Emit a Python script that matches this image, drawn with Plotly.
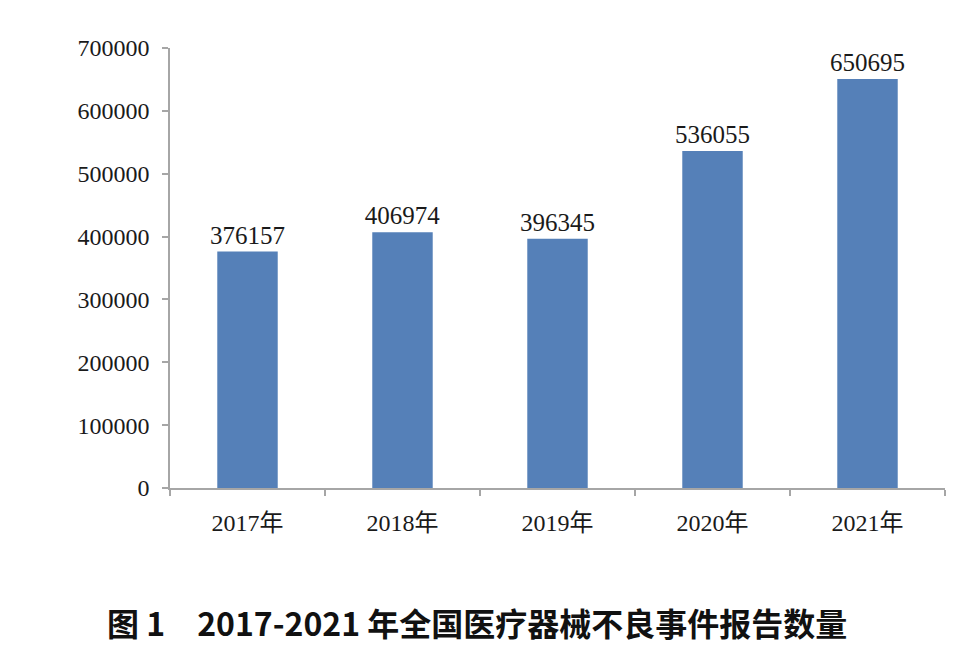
import plotly.graph_objects as go

years = ["2017年", "2018年", "2019年", "2020年", "2021年"]
reports = [376157, 406974, 396345, 536055, 650695]
y_ticks = [0, 100000, 200000, 300000, 400000, 500000, 600000, 700000]
title_text = "图 1　2017-2021 年全国医疗器械不良事件报告数量"

serif = "Liberation Serif, Times New Roman, Noto Sans CJK SC, serif"
axis_col = "#A6A6A6"

fig = go.Figure(go.Bar(
    x=years, y=reports,
    marker=dict(color="#5580B8", line=dict(width=0)),
    width=0.39,
    text=[str(v) for v in reports],
    textposition="outside",
    constraintext="none",
    cliponaxis=False,
    textfont=dict(family=serif, size=25, color="#1a1a1a"),
))

fig.update_layout(
    width=964, height=644,
    margin=dict(l=162, r=27, t=40, b=164, autoexpand=False),
    paper_bgcolor="white", plot_bgcolor="white",
    showlegend=False,
    font=dict(family=serif, size=24, color="#1a1a1a"),
    annotations=[dict(
        text="<b>" + title_text + "</b>",
        xref="paper", yref="paper", x=0.3955, y=-0.3045,
        xanchor="center", yanchor="middle", showarrow=False,
        font=dict(family="Noto Sans CJK SC, Liberation Mono, monospace", size=32, color="#111"),
    )],
)
fig.update_yaxes(
    range=[0, 700000], tickvals=y_ticks, ticktext=[str(v) for v in y_ticks],
    showgrid=False, zeroline=False,
    showline=True, linecolor=axis_col, linewidth=1.5,
    ticks="outside", ticklen=6, tickcolor=axis_col, tickwidth=1.5,
    ticklabelstandoff=8,
    tickfont=dict(family=serif, size=24, color="#1a1a1a"),
)
fig.update_xaxes(
    showgrid=False, zeroline=False,
    showline=True, linecolor=axis_col, linewidth=1.5,
    ticks="outside", ticklen=6, tickcolor=axis_col, tickwidth=1.5,
    tickson="boundaries",
    ticklabelstandoff=12,
    tickfont=dict(family=serif, size=24, color="#1a1a1a"),
)

fig.write_html("out.html")
